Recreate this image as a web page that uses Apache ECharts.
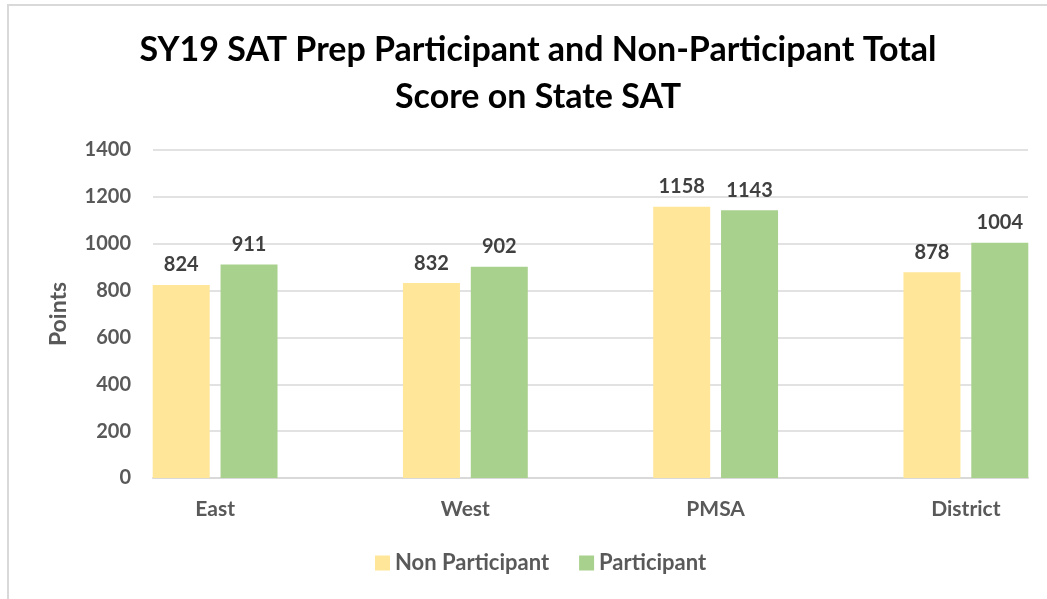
<!DOCTYPE html>
<html>
<head>
<meta charset="utf-8">
<script src="https://cdn.jsdelivr.net/npm/echarts@6/dist/echarts.min.js"></script>
<style>
html,body{margin:0;padding:0;background:#fff;}
#chartmain{width:1047px;height:599px;}
</style>
</head>
<body>
<div id="chartmain"></div>
<script>
// data
var categories = ['East', 'West', 'PMSA', 'District'];
var nonParticipant = [824, 832, 1158, 878];
var participant = [911, 902, 1143, 1004];
var yTicks = [0, 200, 400, 600, 800, 1000, 1200, 1400];

var fontFam = 'Lato, "Open Sans", sans-serif';
var gray = '#595959';

var myChart = echarts.init(document.getElementById('chartmain'));

var option = {
    backgroundColor: '#fff',
    animation: false,
    title: {
        text: 'SY19 SAT Prep Participant and Non-Participant Total\nScore on State SAT',
        left: 533,
        textAlign: 'center',
        top: 22,
        textStyle: {
            fontFamily: fontFam,
            fontWeight: 'bold',
            fontSize: 34,
            lineHeight: 47,
            color: '#000'
        }
    },
    graphic: [{
        type: 'rect',
        shape: {x: 8, y: 5, width: 1100, height: 700},
        style: {fill: 'none', stroke: '#d9d9d9', lineWidth: 2},
        silent: true
    }],
    legend: {
        data: ['Non Participant', 'Participant'],
        left: 370,
        top: 547,
        itemWidth: 15,
        itemHeight: 15,
        itemGap: 30,
        icon: 'rect',
        textStyle: {
            fontFamily: fontFam,
            fontWeight: 'bold',
            fontSize: 22,
            color: gray
        }
    },
    grid: [
        // grid with gridlines and y labels
        {left: 153, right: 19, top: 150, height: 328, outerBoundsMode: 'none'},
        // grid carrying the bars (wider bands)
        {left: 90, width: 1001, top: 150, height: 328, outerBoundsMode: 'none'}
    ],
    xAxis: [{
        type: 'category',
        gridIndex: 0,
        data: categories,
        show: true,
        axisLine: {lineStyle: {color: '#d9d9d9', width: 2}},
        axisTick: {show: false},
        axisLabel: {show: false}
    }, {
        type: 'category',
        gridIndex: 1,
        data: categories,
        axisLine: {show: false},
        axisTick: {show: false},
        axisLabel: {
            margin: 21,
            fontFamily: fontFam,
            fontWeight: 'bold',
            fontSize: 21,
            color: gray
        }
    }],
    yAxis: [{
        type: 'value',
        gridIndex: 0,
        min: yTicks[0],
        max: yTicks[yTicks.length - 1],
        interval: 200,
        name: 'Points',
        nameLocation: 'middle',
        nameGap: 83,
        nameRotate: 90,
        nameTextStyle: {
            fontFamily: fontFam,
            fontWeight: 'bold',
            fontSize: 23,
            color: gray
        },
        axisLine: {show: false},
        axisTick: {show: false},
        splitLine: {lineStyle: {color: '#d9d9d9', width: 1.5}},
        axisLabel: {
            margin: 22,
            fontFamily: fontFam,
            fontWeight: 'bold',
            fontSize: 20,
            color: gray,
            formatter: function (v) { return String(v); }
        }
    }, {
        type: 'value',
        gridIndex: 1,
        min: yTicks[0],
        max: yTicks[yTicks.length - 1],
        interval: 200,
        show: false,
        splitLine: {show: false}
    }],
    series: [{
        name: 'Non Participant',
        type: 'bar',
        xAxisIndex: 1,
        yAxisIndex: 1,
        data: nonParticipant,
        barWidth: 57,
        barGap: '19%',
        itemStyle: {color: '#ffe699'},
        label: {
            show: true,
            position: 'top',
            distance: 10,
            fontFamily: fontFam,
            fontWeight: 'bold',
            fontSize: 20,
            color: '#404040'
        }
    }, {
        name: 'Participant',
        type: 'bar',
        xAxisIndex: 1,
        yAxisIndex: 1,
        data: participant,
        barWidth: 57,
        barGap: '19%',
        itemStyle: {color: '#a9d18e'},
        label: {
            show: true,
            position: 'top',
            distance: 10,
            fontFamily: fontFam,
            fontWeight: 'bold',
            fontSize: 20,
            color: '#404040'
        }
    }]
};

myChart.setOption(option);
</script>
</body>
</html>
